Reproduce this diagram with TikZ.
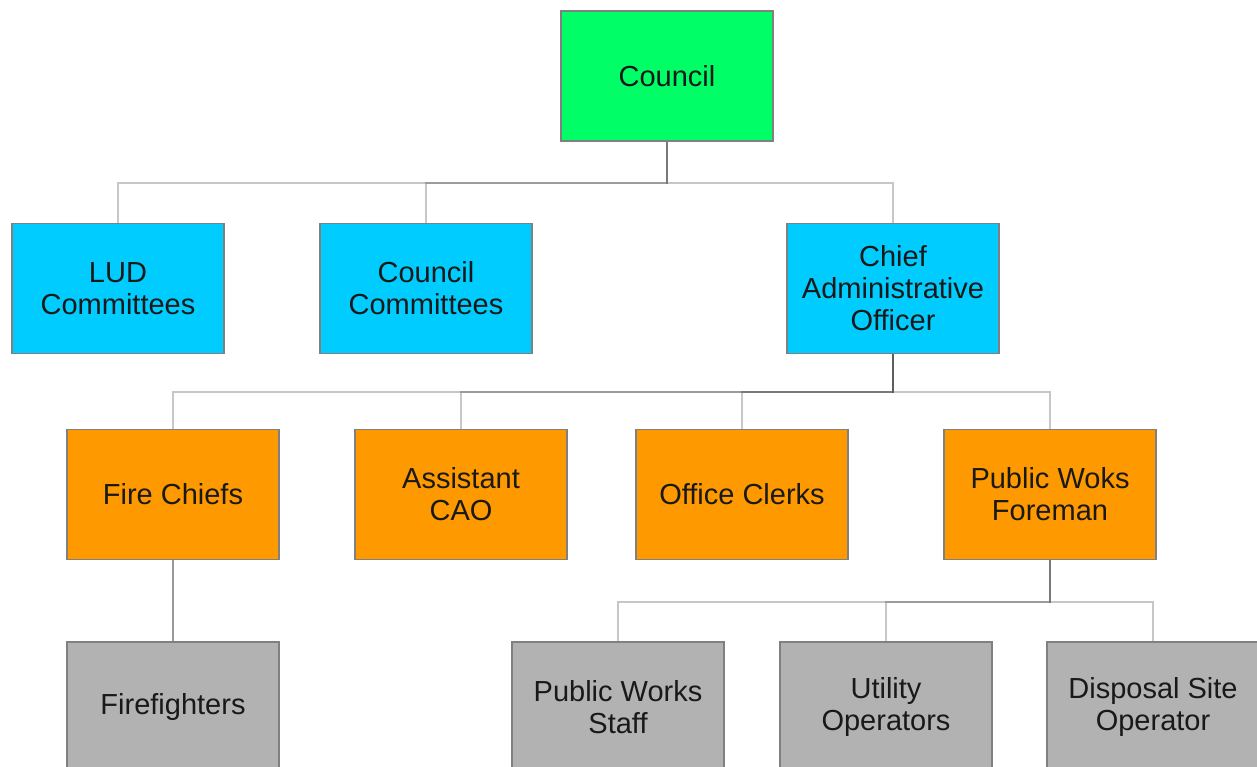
\documentclass[tikz,border=0pt]{standalone}
\usepackage{fontspec}
\setmainfont{Liberation Sans}
\definecolor{boardgreen}{HTML}{00FF66}
\definecolor{staffcyan}{HTML}{00CCFF}
\definecolor{deptorange}{HTML}{FF9900}
\definecolor{crewgray}{HTML}{B2B2B2}
\tikzset{
  orgbox/.style={draw=black!50, line width=1.2pt, minimum width=212pt, minimum height=130pt,
    inner sep=0pt, align=center, text=black!90, font=\fontsize{29}{32}\selectfont},
  link/.style={draw=black, draw opacity=0.22, line width=2pt}
}
\begin{document}
\begin{tikzpicture}[x=1pt,y=-1pt]
	\useasboundingbox (0,0) rectangle (1257,767);
	% top
	\node [orgbox, fill=boardgreen] (council) at (667,76) {Council};
	% second row
	\node [orgbox, fill=staffcyan] (lud) at (118,288.5) {LUD\\Committees};
	\node [orgbox, fill=staffcyan] (ccom) at (426,288.5) {Council\\Committees};
	\node [orgbox, fill=staffcyan] (cao) at (893,288.5) {Chief\\Administrative\\Officer};
	% third row
	\node [orgbox, fill=deptorange] (fire) at (173,494.5) {Fire Chiefs};
	\node [orgbox, fill=deptorange] (acao) at (461,494.5) {Assistant\\CAO};
	\node [orgbox, fill=deptorange] (clerks) at (742,494.5) {Office Clerks};
	\node [orgbox, fill=deptorange] (pwf) at (1050,494.5) {Public Woks\\Foreman};
	% bottom row
	\node [orgbox, fill=crewgray] (ff) at (173,707) {Firefighters};
	\node [orgbox, fill=crewgray] (pws) at (618,707) {Public Works\\Staff};
	\node [orgbox, fill=crewgray] (util) at (886,707) {Utility\\Operators};
	\node [orgbox, fill=crewgray] (dso) at (1153,707) {Disposal Site\\Operator};
	% connectors
	\foreach \child in {lud,ccom,cao}
		\draw [link] (council.south) -- ++(0,41) -| (\child.north);
	\foreach \child in {fire,acao,clerks,pwf}
		\draw [link] (cao.south) -- ++(0,38) -| (\child.north);
	\foreach \child in {pws,util,dso}
		\draw [link] (pwf.south) -- ++(0,42) -| (\child.north);
	\draw [link, draw opacity=0.4] (fire.south) -- (ff.north);
\end{tikzpicture}
\end{document}
